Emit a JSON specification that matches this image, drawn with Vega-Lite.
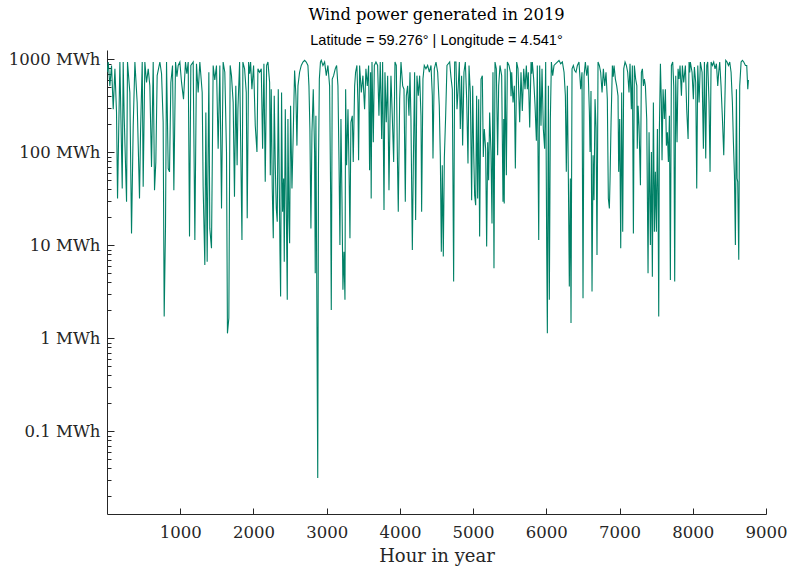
{
"$schema": "https://vega.github.io/schema/vega-lite/v6.json",
"width": 659, "height": 464,
"autosize": "none",
"padding": {"left": 107, "top": 50, "right": 21, "bottom": 54},
"background": "white",
"title": {"text": "Wind power generated in 2019", "subtitle": "Latitude = 59.276° | Longitude = 4.541°", "font": "DejaVu Serif", "fontSize": 16.3, "fontWeight": "normal", "color": "#000000", "subtitleFont": "Liberation Sans", "subtitleFontSize": 14.5, "subtitleColor": "#000000", "anchor": "middle", "offset": 3, "subtitlePadding": 10},
"data": {"values": [
{"h":1,"v":726},{"h":17,"v":935},{"h":39,"v":518},{"h":62,"v":859},{"h":85,"v":291},{"h":108,"v":790},{"h":130,"v":268},{"h":144,"v":31.9},{"h":176,"v":935},{"h":208,"v":40.8},{"h":221,"v":935},{"h":235,"v":237},{"h":267,"v":29.4},{"h":280,"v":935},{"h":312,"v":439},{"h":335,"v":13.4},{"h":358,"v":193},{"h":381,"v":935},{"h":412,"v":343},{"h":426,"v":123},{"h":444,"v":31.9},{"h":458,"v":164},{"h":481,"v":935},{"h":494,"v":42.5},{"h":517,"v":935},{"h":540,"v":564},{"h":563,"v":790},{"h":585,"v":520},{"h":608,"v":69.7},{"h":631,"v":935},{"h":649,"v":39.2},{"h":667,"v":78.9},{"h":685,"v":667},{"h":722,"v":935},{"h":745,"v":700},{"h":767,"v":210},{"h":781,"v":1.72},{"h":799,"v":15.8},{"h":813,"v":935},{"h":836,"v":66.9},{"h":854,"v":61.6},{"h":872,"v":564},{"h":895,"v":859},{"h":913,"v":39.2},{"h":936,"v":935},{"h":955,"v":650},{"h":972,"v":859},{"h":995,"v":935},{"h":1018,"v":564},{"h":1045,"v":373},{"h":1072,"v":935},{"h":1090,"v":700},{"h":1109,"v":935},{"h":1127,"v":12.4},{"h":1145,"v":859},{"h":1177,"v":935},{"h":1200,"v":11.4},{"h":1222,"v":896},{"h":1245,"v":439},{"h":1268,"v":935},{"h":1300,"v":439},{"h":1313,"v":42.5},{"h":1336,"v":6.15},{"h":1350,"v":268},{"h":1368,"v":6.67},{"h":1391,"v":726},{"h":1404,"v":15.2},{"h":1427,"v":9.3},{"h":1450,"v":859},{"h":1472,"v":600},{"h":1495,"v":859},{"h":1518,"v":109},{"h":1541,"v":859},{"h":1564,"v":24.9},{"h":1586,"v":935},{"h":1609,"v":726},{"h":1632,"v":101},{"h":1645,"v":1.13},{"h":1664,"v":1.65},{"h":1682,"v":859},{"h":1700,"v":667},{"h":1723,"v":343},{"h":1741,"v":33.2},{"h":1759,"v":518},{"h":1777,"v":72.6},
{"h":1788,"v":291},{"h":1811,"v":935},{"h":1843,"v":11.4},{"h":1856,"v":935},{"h":1879,"v":790},{"h":1902,"v":439},{"h":1915,"v":19.5},{"h":1934,"v":935},{"h":1948,"v":700},{"h":1961,"v":935},{"h":1979,"v":477},{"h":2002,"v":859},{"h":2025,"v":193},{"h":2048,"v":101},{"h":2061,"v":790},{"h":2084,"v":726},{"h":2107,"v":790},{"h":2125,"v":109},{"h":2143,"v":896},{"h":2161,"v":48.1},{"h":2180,"v":859},{"h":2198,"v":935},{"h":2221,"v":564},{"h":2230,"v":56.8},{"h":2243,"v":477},{"h":2257,"v":40.8},{"h":2271,"v":11.9},{"h":2284,"v":405},{"h":2298,"v":72.6},{"h":2312,"v":24.9},{"h":2325,"v":17.9},{"h":2339,"v":477},{"h":2353,"v":44.3},{"h":2362,"v":8.54},{"h":2371,"v":2.82},{"h":2384,"v":439},{"h":2398,"v":22.9},{"h":2412,"v":52.3},{"h":2421,"v":6.67},{"h":2435,"v":291},{"h":2448,"v":29.4},{"h":2462,"v":2.6},{"h":2471,"v":228},{"h":2485,"v":19.5},{"h":2494,"v":10.5},{"h":2507,"v":316},{"h":2526,"v":40.8},{"h":2544,"v":164},{"h":2562,"v":757},{"h":2580,"v":405},{"h":2594,"v":118},{"h":2608,"v":518},{"h":2630,"v":726},{"h":2653,"v":859},{"h":2676,"v":935},{"h":2699,"v":975},{"h":2721,"v":935},{"h":2744,"v":859},{"h":2758,"v":518},{"h":2771,"v":178},{"h":2785,"v":15.2},{"h":2799,"v":164},{"h":2817,"v":477},{"h":2835,"v":101},{"h":2844,"v":5.0},{"h":2853,"v":247},{"h":2878,"v":0.0315},{"h":2888,"v":66.9},{"h":2900,"v":613},{"h":2915,"v":935},{"h":2926,"v":975},{"h":2949,"v":859},{"h":2972,"v":935},{"h":2995,"v":667},{"h":3017,"v":859},{"h":3040,"v":518},{"h":3054,"v":37.6},{"h":3063,"v":2.02},{"h":3076,"v":613},{"h":3095,"v":667},{"h":3117,"v":790},{"h":3136,"v":859},{"h":3154,"v":518},{"h":3168,"v":85.6},{"h":3181,"v":10.1},{"h":3195,"v":228},{"h":3209,"v":31.9},{"h":3222,"v":3.32},{"h":3236,"v":8.54},{"h":3250,"v":2.6},{"h":3259,"v":477},{"h":3272,"v":72.6},{"h":3291,"v":291},{"h":3304,"v":78.9},{"h":3318,"v":11.9},{"h":3331,"v":210},{"h":3350,"v":247},{"h":3363,"v":78.9},{"h":3382,"v":518},{"h":3395,"v":726},{"h":3413,"v":859},{"h":3427,"v":343},{"h":3436,"v":82},{"h":3450,"v":859},{"h":3473,"v":439},{"h":3495,"v":667},{"h":3518,"v":291},{"h":3536,"v":790},{"h":3555,"v":518},{"h":3573,"v":859},{"h":3586,"v":64},{"h":3600,"v":726},
{"h":3608,"v":31.9},{"h":3619,"v":935},{"h":3637,"v":128},{"h":3651,"v":859},{"h":3673,"v":935},{"h":3696,"v":859},{"h":3714,"v":247},{"h":3732,"v":935},{"h":3751,"v":139},{"h":3764,"v":935},{"h":3783,"v":23.9},{"h":3796,"v":726},{"h":3814,"v":210},{"h":3833,"v":667},{"h":3851,"v":39.2},{"h":3865,"v":228},{"h":3878,"v":667},{"h":3896,"v":247},{"h":3915,"v":78.9},{"h":3933,"v":935},{"h":3951,"v":859},{"h":3965,"v":101},{"h":3978,"v":22.9},{"h":3997,"v":373},{"h":4015,"v":935},{"h":4038,"v":518},{"h":4056,"v":477},{"h":4074,"v":29.4},{"h":4088,"v":405},{"h":4106,"v":518},{"h":4124,"v":247},{"h":4138,"v":726},{"h":4151,"v":228},{"h":4170,"v":8.9},{"h":4183,"v":69.7},{"h":4201,"v":726},{"h":4215,"v":18.7},{"h":4233,"v":667},{"h":4252,"v":405},{"h":4270,"v":667},{"h":4288,"v":247},{"h":4297,"v":22.9},{"h":4315,"v":613},{"h":4333,"v":859},{"h":4356,"v":790},{"h":4379,"v":859},{"h":4402,"v":726},{"h":4425,"v":859},{"h":4443,"v":405},{"h":4452,"v":85.6},{"h":4470,"v":790},{"h":4493,"v":935},{"h":4516,"v":726},{"h":4538,"v":316},{"h":4552,"v":93},{"h":4566,"v":8.54},{"h":4579,"v":72.6},{"h":4593,"v":7.56},{"h":4607,"v":85.6},{"h":4625,"v":247},{"h":4643,"v":859},{"h":4661,"v":896},{"h":4680,"v":935},{"h":4698,"v":640},{"h":4716,"v":477},{"h":4734,"v":4.07},{"h":4748,"v":935},{"h":4766,"v":935},{"h":4780,"v":291},{"h":4793,"v":439},{"h":4812,"v":935},{"h":4825,"v":178},{"h":4843,"v":667},{"h":4857,"v":118},{"h":4875,"v":726},{"h":4894,"v":935},{"h":4912,"v":373},{"h":4930,"v":75.7},{"h":4944,"v":859},{"h":4962,"v":439},{"h":4980,"v":30.6},{"h":4994,"v":518},{"h":5007,"v":109},{"h":5021,"v":34.6},{"h":5035,"v":27},{"h":5048,"v":405},{"h":5062,"v":31.9},{"h":5076,"v":373},{"h":5089,"v":12.4},{"h":5108,"v":613},{"h":5126,"v":667},{"h":5139,"v":89},{"h":5153,"v":178},{"h":5171,"v":109},{"h":5185,"v":9.7},{"h":5199,"v":128},{"h":5212,"v":50},{"h":5226,"v":268},{"h":5244,"v":101},{"h":5258,"v":17.2},{"h":5271,"v":726},{"h":5285,"v":5.66},{"h":5299,"v":935},{"h":5317,"v":790},{"h":5335,"v":93},{"h":5349,"v":518},{"h":5367,"v":859},{"h":5390,"v":667},{"h":5408,"v":29.4},{"h":5418,"v":228},
{"h":5425,"v":28.2},{"h":5436,"v":790},{"h":5454,"v":56.8},{"h":5468,"v":935},{"h":5490,"v":859},{"h":5509,"v":726},{"h":5518,"v":400},{"h":5527,"v":726},{"h":5545,"v":343},{"h":5563,"v":518},{"h":5577,"v":66.9},{"h":5595,"v":935},{"h":5613,"v":790},{"h":5636,"v":210},{"h":5654,"v":726},{"h":5672,"v":279},{"h":5691,"v":790},{"h":5709,"v":477},{"h":5727,"v":859},{"h":5741,"v":477},{"h":5754,"v":726},{"h":5773,"v":185},{"h":5791,"v":935},{"h":5800,"v":700},{"h":5809,"v":935},{"h":5827,"v":613},{"h":5845,"v":329},{"h":5864,"v":133},{"h":5877,"v":859},{"h":5896,"v":11.4},{"h":5909,"v":859},{"h":5927,"v":193},{"h":5941,"v":790},{"h":5959,"v":178},{"h":5977,"v":109},{"h":5991,"v":935},{"h":6005,"v":9.3},{"h":6014,"v":1.13},{"h":6028,"v":518},{"h":6041,"v":2.6},{"h":6055,"v":228},{"h":6069,"v":935},{"h":6087,"v":667},{"h":6105,"v":859},{"h":6128,"v":896},{"h":6150,"v":935},{"h":6173,"v":975},{"h":6196,"v":896},{"h":6219,"v":935},{"h":6242,"v":726},{"h":6260,"v":405},{"h":6273,"v":61.6},{"h":6287,"v":518},{"h":6301,"v":52.3},{"h":6314,"v":3.6},{"h":6328,"v":52.3},{"h":6337,"v":1.46},{"h":6351,"v":790},{"h":6369,"v":859},{"h":6387,"v":757},{"h":6405,"v":726},{"h":6424,"v":859},{"h":6446,"v":935},{"h":6469,"v":477},{"h":6487,"v":726},{"h":6501,"v":2.7},{"h":6515,"v":667},{"h":6533,"v":935},{"h":6551,"v":667},{"h":6569,"v":859},{"h":6588,"v":268},{"h":6597,"v":101},{"h":6610,"v":456},{"h":6624,"v":3.18},{"h":6638,"v":93},{"h":6651,"v":30.6},{"h":6665,"v":373},{"h":6679,"v":185},{"h":6692,"v":7.87},{"h":6706,"v":935},{"h":6724,"v":859},{"h":6742,"v":726},{"h":6761,"v":439},{"h":6779,"v":790},{"h":6797,"v":518},{"h":6815,"v":726},{"h":6833,"v":373},{"h":6847,"v":31.9},{"h":6861,"v":24.9},{"h":6870,"v":50},{"h":6884,"v":210},{"h":6902,"v":859},{"h":6914,"v":650},{"h":6925,"v":859},{"h":6943,"v":613},{"h":6961,"v":518},{"h":6979,"v":405},{"h":6988,"v":61.6},{"h":7002,"v":228},{"h":7016,"v":9.3},{"h":7029,"v":439},{"h":7043,"v":14},{"h":7057,"v":790},{"h":7075,"v":935},{"h":7093,"v":859},{"h":7111,"v":726},{"h":7129,"v":439},{"h":7143,"v":896},{"h":7161,"v":291},{"h":7175,"v":859},{"h":7189,"v":13.4},{"h":7202,"v":859},{"h":7220,"v":613},{"h":7236,"v":518},
{"h":7242,"v":109},{"h":7253,"v":316},{"h":7266,"v":193},{"h":7285,"v":44.3},{"h":7298,"v":726},{"h":7312,"v":790},{"h":7326,"v":518},{"h":7339,"v":613},{"h":7353,"v":518},{"h":7371,"v":228},{"h":7389,"v":5.0},{"h":7403,"v":164},{"h":7421,"v":10.1},{"h":7435,"v":101},{"h":7448,"v":4.6},{"h":7462,"v":343},{"h":7476,"v":14},{"h":7489,"v":61.6},{"h":7503,"v":14},{"h":7517,"v":178},{"h":7526,"v":34.6},{"h":7535,"v":1.72},{"h":7544,"v":178},{"h":7558,"v":896},{"h":7571,"v":343},{"h":7580,"v":82},{"h":7594,"v":477},{"h":7612,"v":228},{"h":7626,"v":477},{"h":7640,"v":118},{"h":7653,"v":164},{"h":7667,"v":78.9},{"h":7681,"v":247},{"h":7694,"v":4.24},{"h":7708,"v":859},{"h":7726,"v":935},{"h":7740,"v":518},{"h":7753,"v":4.07},{"h":7767,"v":667},{"h":7785,"v":128},{"h":7799,"v":790},{"h":7813,"v":613},{"h":7826,"v":859},{"h":7845,"v":405},{"h":7858,"v":859},{"h":7876,"v":564},{"h":7899,"v":859},{"h":7917,"v":291},{"h":7936,"v":139},{"h":7949,"v":935},{"h":7958,"v":720},{"h":7967,"v":935},{"h":7990,"v":726},{"h":8008,"v":373},{"h":8022,"v":824},{"h":8040,"v":564},{"h":8054,"v":40.8},{"h":8068,"v":859},{"h":8086,"v":343},{"h":8104,"v":935},{"h":8127,"v":726},{"h":8145,"v":109},{"h":8159,"v":935},{"h":8177,"v":85.6},{"h":8191,"v":859},{"h":8204,"v":935},{"h":8222,"v":343},{"h":8236,"v":61.6},{"h":8250,"v":935},{"h":8268,"v":859},{"h":8286,"v":935},{"h":8304,"v":790},{"h":8323,"v":896},{"h":8341,"v":518},{"h":8354,"v":726},{"h":8368,"v":935},{"h":8386,"v":518},{"h":8405,"v":228},{"h":8423,"v":93},{"h":8436,"v":291},{"h":8450,"v":975},{"h":8468,"v":935},{"h":8487,"v":859},{"h":8505,"v":935},{"h":8523,"v":726},{"h":8541,"v":343},{"h":8555,"v":128},{"h":8569,"v":56.8},{"h":8582,"v":10.1},{"h":8596,"v":477},{"h":8605,"v":52.3},{"h":8614,"v":48.1},{"h":8628,"v":7},{"h":8641,"v":518},{"h":8660,"v":935},{"h":8678,"v":975},{"h":8696,"v":935},{"h":8719,"v":859},{"h":8737,"v":859},{"h":8751,"v":477},{"h":8760,"v":600}
]},
"mark": {"type": "line", "color": "#008066", "strokeWidth": 1.1, "clip": true},
"encoding": {
"x": {"field": "h", "type": "quantitative",
 "scale": {"domain": [0, 9000], "nice": false, "zero": false},
 "axis": {"values": [1000,2000,3000,4000,5000,6000,7000,8000,9000], "format": "d", "title": "Hour in year", "grid": false,
  "labelFont": "DejaVu Serif", "labelFontSize": 16.5, "labelColor": "#262626", "titleFont": "DejaVu Serif", "titleFontSize": 18, "titleFontWeight": "normal", "titleColor": "#262626",
  "tickColor": "#262626", "domainColor": "#262626", "tickSize": -6, "labelPadding": 16, "titlePadding": 7, "labelFlush": false, "labelOverlap": false}},
"y": {"field": "v", "type": "quantitative",
 "scale": {"type": "log", "domain": [0.0129, 1259], "nice": false},
 "axis": {"values": [0.02,0.03,0.04,0.05,0.06,0.07,0.08,0.09,0.1,0.2,0.3,0.4,0.5,0.6,0.7,0.8,0.9,1,2,3,4,5,6,7,8,9,10,20,30,40,50,60,70,80,90,100,200,300,400,500,600,700,800,900,1000],
  "labelExpr": "abs(log(datum.value)/LN10 - round(log(datum.value)/LN10)) < 0.001 ? (datum.value < 0.5 ? '0.1' : format(datum.value, 'd')) + ' MWh' : ''",
  "title": null, "grid": false,
  "labelFont": "DejaVu Serif", "labelFontSize": 16.5, "labelColor": "#262626",
  "tickColor": "#262626", "domainColor": "#262626",
  "tickSize": {"condition": {"test": "abs(log(datum.value)/LN10 - round(log(datum.value)/LN10)) < 0.001", "value": -7}, "value": -4},
  "labelPadding": 14, "labelFlush": false, "labelOverlap": false}}
},
"config": {"view": {"stroke": null}}
}
